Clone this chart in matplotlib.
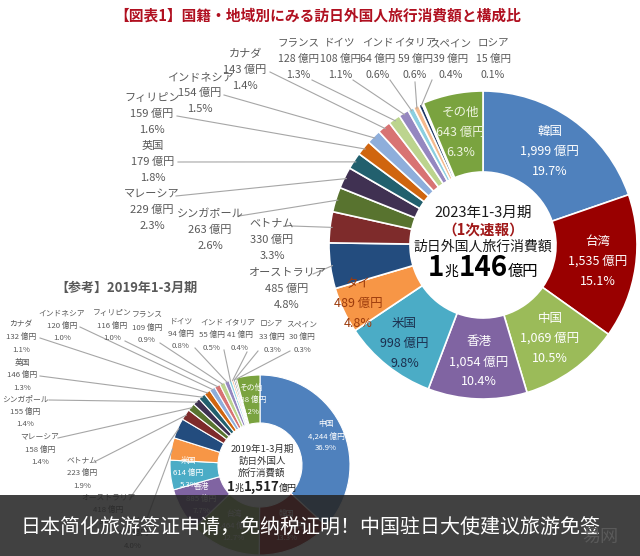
import matplotlib
matplotlib.use('Agg')
import matplotlib.pyplot as plt
from matplotlib.patches import Rectangle
from matplotlib.offsetbox import TextArea, HPacker, AnnotationBbox
import numpy as np

JP = ['Noto Sans CJK JP', 'DejaVu Sans']
SC = ['Noto Sans CJK SC', 'DejaVu Sans']
plt.rcParams['font.family'] = JP

# ---------------- data ----------------
countries_2023 = ['韓国', '台湾', '中国', '香港', '米国', 'タイ', 'オーストラリア', 'ベトナム',
                  'シンガポール', 'マレーシア', '英国', 'フィリピン', 'インドネシア', 'カナダ',
                  'フランス', 'ドイツ', 'インド', 'イタリア', 'スペイン', 'ロシア', 'その他']
spend_2023 = [1999, 1535, 1069, 1054, 998, 489, 485, 330, 263, 229, 179, 159, 154, 143,
              128, 108, 64, 59, 39, 15, 643]
share_2023 = [19.7, 15.1, 10.5, 10.4, 9.8, 4.8, 4.8, 3.3, 2.6, 2.3, 1.8, 1.6, 1.5, 1.4,
              1.3, 1.1, 0.6, 0.6, 0.4, 0.1, 6.3]

countries_2019 = ['中国', '韓国', '台湾', '香港', '米国', 'タイ', 'オーストラリア', 'ベトナム',
                  'マレーシア', 'シンガポール', '英国', 'カナダ', 'インドネシア', 'フィリピン',
                  'フランス', 'ドイツ', 'インド', 'イタリア', 'ロシア', 'スペイン', 'その他']
spend_2019 = [4244, 1532, 1464, 885, 614, 461, 418, 223, 158, 155, 146, 132, 120, 116,
              109, 94, 55, 41, 33, 30, 488]
share_2019 = [36.9, 13.3, 12.7, 7.7, 5.3, 4.0, 3.6, 1.9, 1.4, 1.4, 1.3, 1.1, 1.0, 1.0,
              0.9, 0.8, 0.5, 0.4, 0.3, 0.3, 4.2]

title = '【図表1】国籍・地域別にみる訪日外国人旅行消費額と構成比'
banner = '日本简化旅游签证申请，免纳税证明！中国驻日大使建议旅游免签'

# ---------------- styles ----------------
palette = ['#4F81BD', '#990000', '#9BBB59', '#8064A2', '#4BACC6', '#F79646', '#234C7E',
           '#7E2B2B', '#58732F', '#403152', '#22606E', '#D0650F', '#8EAEDB', '#D87373',
           '#BCD48E', '#9587C0', '#8CCFE0', '#F5BA8E', '#1F3864', '#5A1E1E', '#7AA33F']
GRAY = '#595959'
LINE = '#A6A6A6'

fig = plt.figure(figsize=(6.4, 5.56), dpi=100)
ax = fig.add_axes([0, 0, 1, 1])
H = 556


def donut(values, cx, cy, r_out, r_in, lw):
    wedges, _ = ax.pie(values, colors=palette, startangle=90, counterclock=False,
                       radius=r_out, center=(cx, H - cy),
                       wedgeprops=dict(width=r_out - r_in, edgecolor='white', linewidth=lw))
    mids = [np.deg2rad((w.theta1 + w.theta2) / 2) for w in wedges]
    return mids


def lines3(x, y, texts, size, color, dy, z=3):
    for k, s in enumerate(texts):
        ax.text(x, H - (y + (k - 1) * dy), s, ha='center', va='center',
                fontsize=size, color=color, zorder=z)


def leader(sx, sy, cx, cy, r, ang):
    ex = cx + r * np.cos(ang)
    ey = (H - cy) + r * np.sin(ang)
    ax.plot([sx, ex], [H - sy, ey], color=LINE, lw=0.8, zorder=1)


def fmt(v):
    return f'{v:,} 億円'


# ---------------- main donut (2023) ----------------
MCX, MCY, MRO, MRI = 483, 245, 154, 73
mids = donut(spend_2023, MCX, MCY, MRO, MRI, 1.2)

inside_main = {0: (115, 'white'), 1: (116, 'white'), 2: (115, 'white'), 3: (117, 'white'),
               4: (126, '#1B2F4E'), 5: (138, '#9C3B0C'), 20: (115, '#EEF4E0')}
for i, (r, col) in inside_main.items():
    x = MCX + r * np.cos(mids[i])
    y = MCY - r * np.sin(mids[i])
    lines3(x, y, [countries_2023[i], fmt(spend_2023[i]), f'{share_2023[i]:.1f}%'], 9, col, 20)

outside_main = {6: (287, 289, 313, 274), 7: (272, 240, 292, 226), 8: (210, 230, 239, 216),
                9: (152, 210, 176, 196), 10: (153, 162, 178, 162), 11: (152, 114, 177, 116),
                12: (200, 93, 224, 95), 13: (245, 70, 270, 72), 14: (298, 59, 312, 80),
                15: (340, 59, 353, 80), 16: (378, 59, 390, 80), 17: (415, 59, 415, 82),
                18: (451, 59, 432, 80), 19: (493, 59, None, None)}
for i, (x, y, sx, sy) in outside_main.items():
    fs = 7.6 if i >= 14 else 8
    lines3(x, y, [countries_2023[i], fmt(spend_2023[i]), f'{share_2023[i]:.1f}%'], fs, GRAY, 16)
    if sx is not None:
        leader(sx, sy, MCX, MCY, MRO - 2, mids[i])

ax.text(MCX, H - 213, '2023年1-3月期', ha='center', va='center', fontsize=10.5, color='#1a1a1a')
ax.text(MCX, H - 230, '（1次速報）', ha='center', va='center', fontsize=10.5,
        color='#A01818', fontweight='bold')
ax.text(MCX, H - 247, '訪日外国人旅行消費額', ha='center', va='center', fontsize=10, color='#1a1a1a')
big = dict(fontsize=20, fontweight='bold', color='black', family=JP)
sml = dict(fontsize=10, color='black', family=JP)
pk = HPacker(children=[TextArea('1', textprops=big), TextArea('兆', textprops=sml),
                       TextArea('146', textprops=big), TextArea('億円', textprops=dict(sml, fontsize=11))],
             align='baseline', pad=0, sep=0)
ax.add_artist(AnnotationBbox(pk, (MCX, H - 268), frameon=False, box_alignment=(0.5, 0.5)))

# ---------------- small donut (2019) ----------------
SCX, SCY, SRO, SRI = 260, 465, 90, 42
smids = donut(spend_2019, SCX, SCY, SRO, SRI, 0.8)

inside_small = {0: 72, 1: 66, 2: 66, 3: 68, 4: 72, 20: 66}
for i, r in inside_small.items():
    x = SCX + r * np.cos(smids[i])
    y = SCY - r * np.sin(smids[i])
    lines3(x, y, [countries_2019[i], fmt(spend_2019[i]), f'{share_2019[i]:.1f}%'], 5.6, 'white', 12)

outside_small = {5: (133, 533, 146, 521), 6: (108, 510, 130, 498), 7: (82, 473, 96, 461),
                 8: (40, 450, 58, 438), 9: (25, 412, 49, 400), 10: (22, 375, 40, 376),
                 11: (21, 337, 40, 338), 12: (62, 326, 80, 327), 13: (112, 326, 125, 341),
                 14: (147, 328, 160, 343), 15: (181, 334, 195, 348), 16: (212, 335, 224, 350),
                 17: (240, 335, 247, 352), 18: (272, 337, 258, 351), 19: (302, 337, 290, 351)}
for i, (x, y, sx, sy) in outside_small.items():
    lines3(x, y, [countries_2019[i], fmt(spend_2019[i]), f'{share_2019[i]:.1f}%'], 5.6, GRAY, 12.5)
    leader(sx, sy, SCX, SCY, SRO - 1, smids[i])

ax.text(SCX + 2, H - 449, '2019年1-3月期', ha='center', va='center', fontsize=6.8, color='#333333')
ax.text(SCX + 2, H - 461, '訪日外国人', ha='center', va='center', fontsize=6.8, color='#333333')
ax.text(SCX + 2, H - 473, '旅行消費額', ha='center', va='center', fontsize=6.8, color='#333333')
big2 = dict(fontsize=9.5, fontweight='bold', color='#222222', family=JP)
sml2 = dict(fontsize=6.5, color='#222222', family=JP)
pk2 = HPacker(children=[TextArea('1', textprops=big2), TextArea('兆', textprops=sml2),
                        TextArea('1,517', textprops=big2), TextArea('億円', textprops=sml2)],
              align='baseline', pad=0, sep=0)
ax.add_artist(AnnotationBbox(pk2, (SCX + 2, H - 487), frameon=False, box_alignment=(0.5, 0.5)))

ax.text(126, H - 288, '【参考】2019年1-3月期', ha='center', va='center', fontsize=9.4,
        color=GRAY, fontweight='bold')

# ---------------- title ----------------
ax.text(318, H - 16, title, ha='center', va='center', fontsize=10.6, color='#B01020',
        fontweight='bold')

# ---------------- banner overlay ----------------
ax.add_patch(Rectangle((0, 0), 640, H - 495, facecolor='#262626', alpha=0.88,
                       edgecolor='none', zorder=20))
ax.text(310, H - 527, banner, ha='center', va='center', fontsize=14.4, color='white',
        family=SC, zorder=21)
ax.text(600, H - 537, '易网', ha='center', va='center', fontsize=13, color='#5a5a5a',
        family=SC, zorder=21)

ax.set_xlim(0, 640)
ax.set_ylim(0, H)
ax.axis('off')
fig.savefig('out.png', dpi=100)
